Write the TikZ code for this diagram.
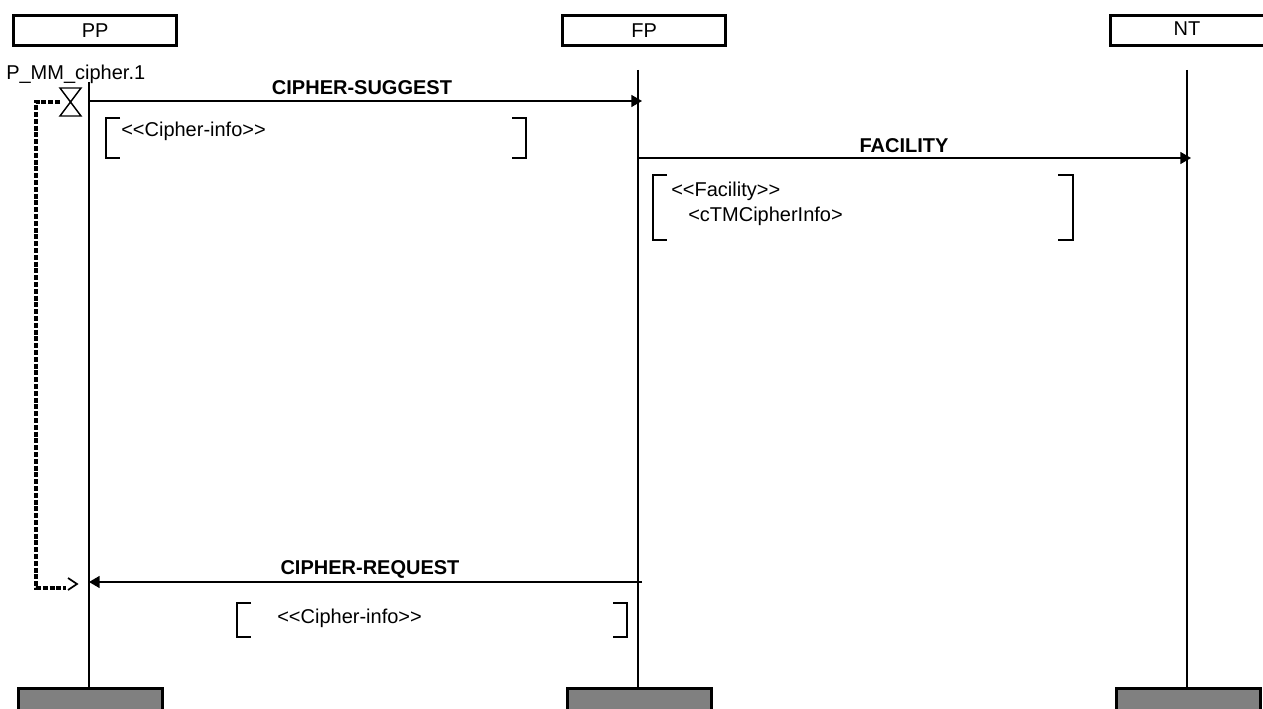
\documentclass[tikz,border=0pt]{standalone}
\usepackage{fontspec}
\setmainfont{Liberation Sans}
\usetikzlibrary{arrows.meta}
\begin{document}
\begin{tikzpicture}[x=0.75pt,y=-0.75pt,
  every node/.style={font=\fontsize{15}{18}\selectfont, inner sep=0pt},
  head/.style={draw, line width=2.2pt, minimum height=22.5pt, anchor=north west},
  foot/.style={draw, line width=2pt, fill=black!50, minimum height=25pt, minimum width=108pt, anchor=north west},
  life/.style={line width=1.1pt},
  msg/.style={line width=1.1pt, -{Triangle[length=8pt,width=9pt]}},
  lbl/.style={font=\fontsize{15}{18}\selectfont\bfseries},
  brk/.style={line width=1.2pt},
  timer/.style={line width=3.6pt, dash pattern=on 3.8pt off 1.3pt},
]
\useasboundingbox (0,0) rectangle (1263,709);
% header boxes
\node[head, minimum width=122.5pt] (pp) at (12,14) {};
\node at (pp.center) {PP};
\node[head, minimum width=122.5pt] (fp) at (561,14) {};
\node at (fp.center) {FP};
\node[head, minimum width=122.5pt] (nt) at (1109,14) {};
\node at (1187,29) {NT};
% foot boxes
\node[foot] (ppf) at (17,687) {};
\node[foot] (fpf) at (566,687) {};
\node[foot] (ntf) at (1115,687) {};
% lifelines
\coordinate (pptop) at (89,82);
\coordinate (fptop) at (638,70);
\coordinate (nttop) at (1187,70);
\coordinate (ppbot) at (89,687);
\coordinate (fpbot) at (638,687);
\coordinate (ntbot) at (1187,687);
\draw[life] (pptop) -- (ppbot);
\draw[life] (fptop) -- (fpbot);
\draw[life] (nttop) -- (ntbot);
% messages
\coordinate (m1a) at (89,101);
\coordinate (m1b) at (642,101);
\draw[msg] (m1a) -- (m1b);
\node[lbl] (l1) at (362,88) {CIPHER-SUGGEST};
\coordinate (m2a) at (638,158);
\coordinate (m2b) at (1191,158);
\draw[msg] (m2a) -- (m2b);
\node[lbl] (l2) at (904,146) {FACILITY};
\coordinate (m3a) at (642,582);
\coordinate (m3b) at (89,582);
\draw[msg] (m3a) -- (m3b);
\node[lbl] (l3) at (370,569) {CIPHER-REQUEST};
% brackets 1
\draw[brk] (120,118) -- (106,118) -- (106,158) -- (120,158);
\draw[brk] (512,118) -- (526,118) -- (526,158) -- (512,158);
\node[anchor=west] (p1) at (121,131) {<{}<Cipher-info>{}>};
% brackets 2
\draw[brk] (667,175) -- (653,175) -- (653,240) -- (667,240);
\draw[brk] (1058,175) -- (1073,175) -- (1073,240) -- (1058,240);
\node[anchor=west] (p2) at (671,191) {<{}<Facility>{}>};
\node[anchor=west] (p3) at (688,216) {<cTMCipherInfo>};
% brackets 3
\draw[brk] (251,603) -- (237,603) -- (237,637) -- (251,637);
\draw[brk] (613,603) -- (627,603) -- (627,637) -- (613,637);
\node[anchor=west] (p4) at (277,618) {<{}<Cipher-info>{}>};
% timer
\node[anchor=west] (tn) at (6,74) {P\_MM\_cipher.1};
\draw[line width=1.1pt] (60,88) -- (81,88) -- (60,116) -- (81,116) -- cycle;
\coordinate (t1) at (60,102);
\coordinate (t2) at (36,102);
\coordinate (t3) at (36,588);
\coordinate (t4) at (66,588);
\draw[timer] (t1) -- (t2) -- (t3) -- (t4);
\draw[line width=1.3pt] (68,578) -- (77,584) -- (68,590);
\end{tikzpicture}
\end{document}
